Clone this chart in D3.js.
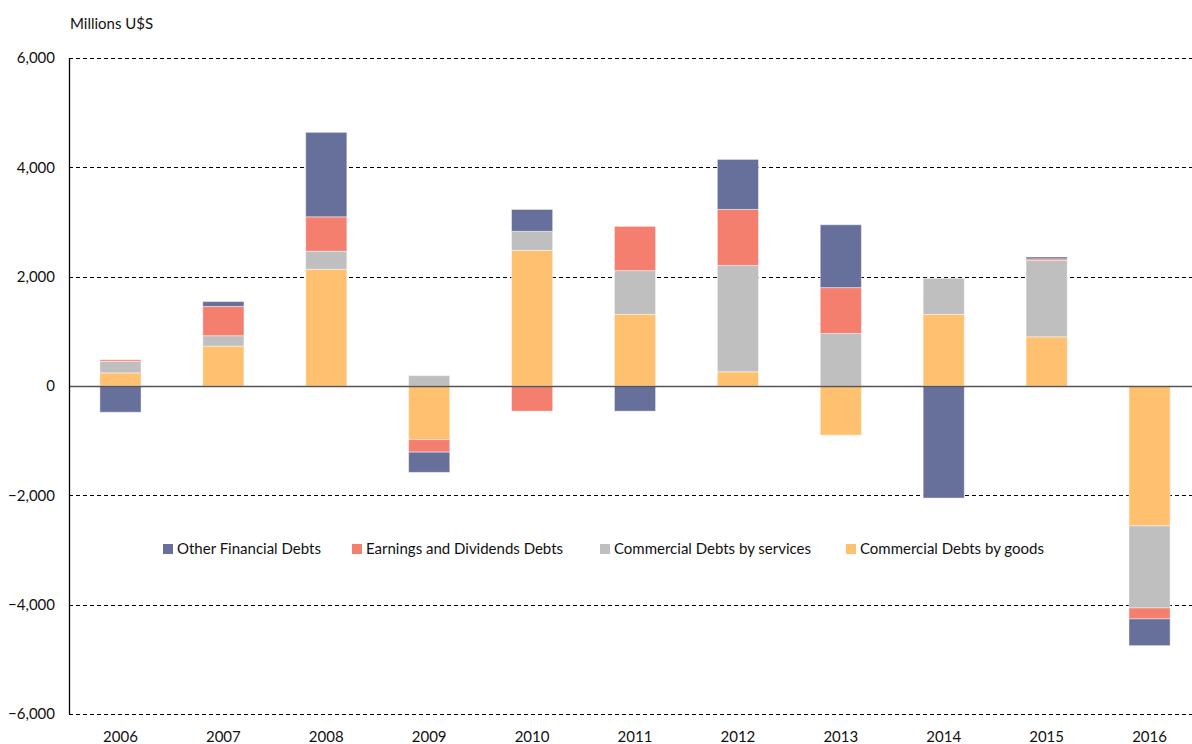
<!DOCTYPE html>
<html>
<head>
<meta charset="utf-8">
<script src="https://cdn.jsdelivr.net/npm/d3@7"></script>
<style>
  html, body { margin: 0; padding: 0; background: #fff; overflow: hidden; }
  svg text { font-family: Lato, "Open Sans", sans-serif; fill: #111; }
</style>
</head>
<body>
<div class="chart"></div>
<script>
var years = ['2006', '2007', '2008', '2009', '2010', '2011', '2012', '2013', '2014', '2015', '2016'];

// stacking order: goods sits nearest to zero, other financial on the outside
var series_keys = ['goods', 'services', 'earnings', 'other'];
var series_names = {
  other: 'Other Financial Debts',
  earnings: 'Earnings and Dividends Debts',
  services: 'Commercial Debts by services',
  goods: 'Commercial Debts by goods'
};
var series_colors = {
  other: '#67709b',
  earnings: '#f47f6f',
  services: '#bfbfbf',
  goods: '#ffc170'
};

var goods    = [240, 730, 2135, -980, 2480, 1310, 260, -900, 1310, 900, -2560];
var services = [210, 190, 330, 190, 350, 800, 1945, 960, 660, 1395, -1500];
var earnings = [30, 535, 630, -230, -460, 810, 1025, 840, 0, 30, -200];
var other    = [-480, 90, 1545, -370, 400, -460, 915, 1150, -2050, 35, -490];

var y_ticks = [6000, 4000, 2000, 0, -2000, -4000, -6000];
var legend_order = ['other', 'earnings', 'services', 'goods'];

var chart = {
  element: '.chart',
  width: 1192,
  height: 744,
  // the plot runs a little past the right edge of the picture
  plot_right: 1201,
  margin: { top: 58, bottom: 30, left: 69 },

  rows: function(){
    return years.map(function(y, i){
      return { year: y, goods: goods[i], services: services[i], earnings: earnings[i], other: other[i] };
    });
  },

  draw: function(){
    var self = this,
        m = this.margin,
        inner_h = this.height - m.top - m.bottom;

    var svg = d3.select(this.element).append('svg')
        .attr('width', this.width)
        .attr('height', this.height);

    var x = d3.scaleBand().domain(years).range([m.left, this.plot_right]).paddingInner(0.6).paddingOuter(0.3);
    var y = d3.scaleLinear().domain([-6000, 6000]).range([m.top + inner_h, m.top]);

    // grid lines
    svg.append('g').selectAll('line')
        .data(y_ticks.filter(function(d){ return d !== 0; }))
      .enter().append('line')
        .attr('x1', m.left).attr('x2', this.width)
        .attr('y1', function(d){ return Math.round(y(d)) + 0.5; })
        .attr('y2', function(d){ return Math.round(y(d)) + 0.5; })
        .attr('stroke', '#000')
        .attr('stroke-width', 1)
        .attr('stroke-dasharray', '4,3');

    // y tick labels
    svg.append('g').selectAll('text')
        .data(y_ticks)
      .enter().append('text')
        .attr('x', 55)
        .attr('y', function(d){ return y(d); })
        .attr('dy', '0.35em')
        .attr('text-anchor', 'end')
        .style('font-size', '15px')
        .text(function(d){ return d3.format(',')(d); });

    var stack = d3.stack().keys(series_keys).offset(d3.stackOffsetDiverging);
    var layers = stack(this.rows());

    svg.append('g').selectAll('g')
        .data(layers)
      .enter().append('g')
        .attr('fill', function(d){ return series_colors[d.key]; })
      .selectAll('rect')
        .data(function(d){ return d; })
      .enter().append('rect')
        .attr('x', function(d){ return x(d.data.year); })
        .attr('width', x.bandwidth())
        .attr('y', function(d){ return y(Math.max(d[0], d[1])); })
        .attr('height', function(d){ return Math.abs(y(d[0]) - y(d[1])); })
        .attr('stroke', 'rgba(255,255,255,0.45)')
        .attr('stroke-width', 1);

    // zero line and left axis
    svg.append('line')
        .attr('x1', m.left).attr('x2', this.width)
        .attr('y1', Math.round(y(0)) + 0.5).attr('y2', Math.round(y(0)) + 0.5)
        .attr('stroke', '#555').attr('stroke-width', 1.5);

    svg.append('line')
        .attr('x1', m.left + 0.5).attr('x2', m.left + 0.5)
        .attr('y1', y(6000)).attr('y2', y(-6000))
        .attr('stroke', '#000').attr('stroke-width', 1.3);

    // year labels
    svg.append('g').selectAll('text')
        .data(years)
      .enter().append('text')
        .attr('x', function(d){ return x(d) + x.bandwidth() / 2; })
        .attr('y', 742)
        .attr('text-anchor', 'middle')
        .style('font-size', '15px')
        .text(function(d){ return d; });

    // unit label
    svg.append('text')
        .attr('x', 70).attr('y', 29)
        .style('font-size', '15px')
        .text('Millions U$S');

    this.legend(svg);
    return svg;
  },

  legend: function(svg){
    var xs = [163, 352, 600, 846];
    var g = svg.append('g').selectAll('g')
        .data(legend_order)
      .enter().append('g')
        .attr('transform', function(d, i){ return 'translate(' + xs[i] + ',549)'; });

    g.append('rect')
        .attr('x', 0).attr('y', -5)
        .attr('width', 10).attr('height', 10)
        .attr('fill', function(d){ return series_colors[d]; });

    g.append('text')
        .attr('x', 14)
        .attr('dy', '0.35em')
        .style('font-size', '15px')
        .text(function(d){ return series_names[d]; });
  }
};

chart.draw();
</script>
</body>
</html>
